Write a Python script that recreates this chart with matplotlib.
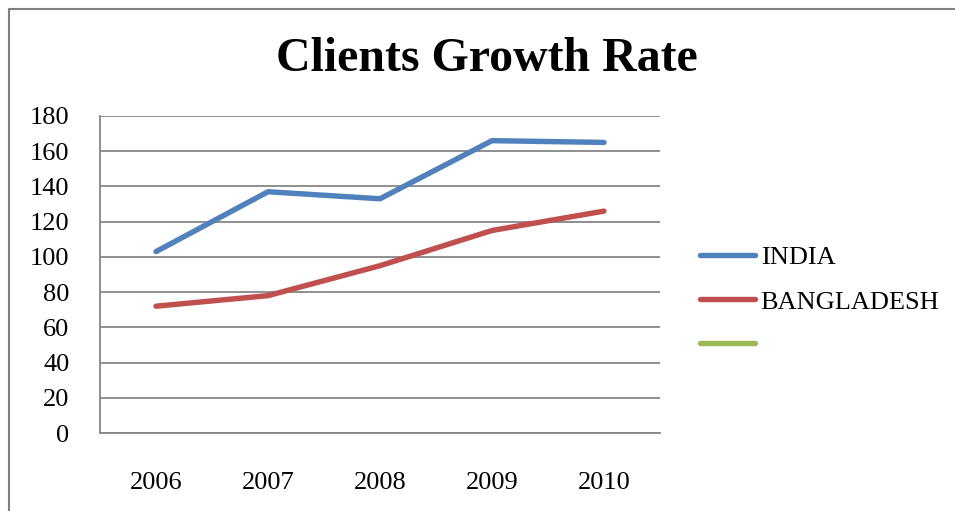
import matplotlib.pyplot as plt
from matplotlib.lines import Line2D

plt.rcParams['font.family'] = ['Liberation Serif', 'DejaVu Serif']

# data
years = ['2006', '2007', '2008', '2009', '2010']
india = [103, 137, 133, 166, 165]
bangladesh = [72, 78, 95, 115, 126]
yticks = [0, 20, 40, 60, 80, 100, 120, 140, 160, 180]

blue = '#4F81BD'
red = '#C0504D'
green = '#9BBB59'
grid_c = '#868686'

fig = plt.figure(figsize=(9.55, 5.11), dpi=100)
ax = fig.add_axes([100 / 955, 1 - 433 / 511, 560 / 955, 317 / 511])

x = list(range(len(years)))
ax.plot(x, india, color=blue, lw=3.9, solid_capstyle='round', label='INDIA')
ax.plot(x, bangladesh, color=red, lw=3.9, solid_capstyle='round', label='BANGLADESH')
ax.plot([], [], color=green, lw=3.9, solid_capstyle='round', label=' ')

ax.set_xlim(-0.5, len(years) - 0.5)
ax.set_ylim(0, 180)
ax.set_yticks(yticks)
ax.set_xticks(x)
ax.set_xticklabels(years)
ax.tick_params(axis='both', length=0, labelsize=19, colors='black')
ax.tick_params(axis='y', pad=22)
ax.tick_params(axis='x', pad=28)
ax.grid(axis='y', color=grid_c, lw=1.3)
ax.set_axisbelow(True)
for s in ['top', 'right']:
    ax.spines[s].set_visible(False)
for s in ['left', 'bottom']:
    ax.spines[s].set_color(grid_c)
    ax.spines[s].set_linewidth(1.3)

fig.text(487 / 955, 1 - 59 / 511, 'Clients Growth Rate', ha='center', va='center',
         fontsize=34.5, fontweight='bold')

fig.legend(loc='upper left', bbox_to_anchor=(700 / 955, 1 - 246 / 511),
           frameon=False, fontsize=19, handlelength=2.1, handletextpad=0.2,
           labelspacing=0.78, borderpad=0, borderaxespad=0)

# chart border (left and top only visible)
fig.add_artist(Line2D([9 / 955, 9 / 955, 1.0], [0, 1 - 9 / 511, 1 - 9 / 511],
                      transform=fig.transFigure, color='#7f7f7f', lw=1.5))

fig.savefig('out.png', dpi=100)
